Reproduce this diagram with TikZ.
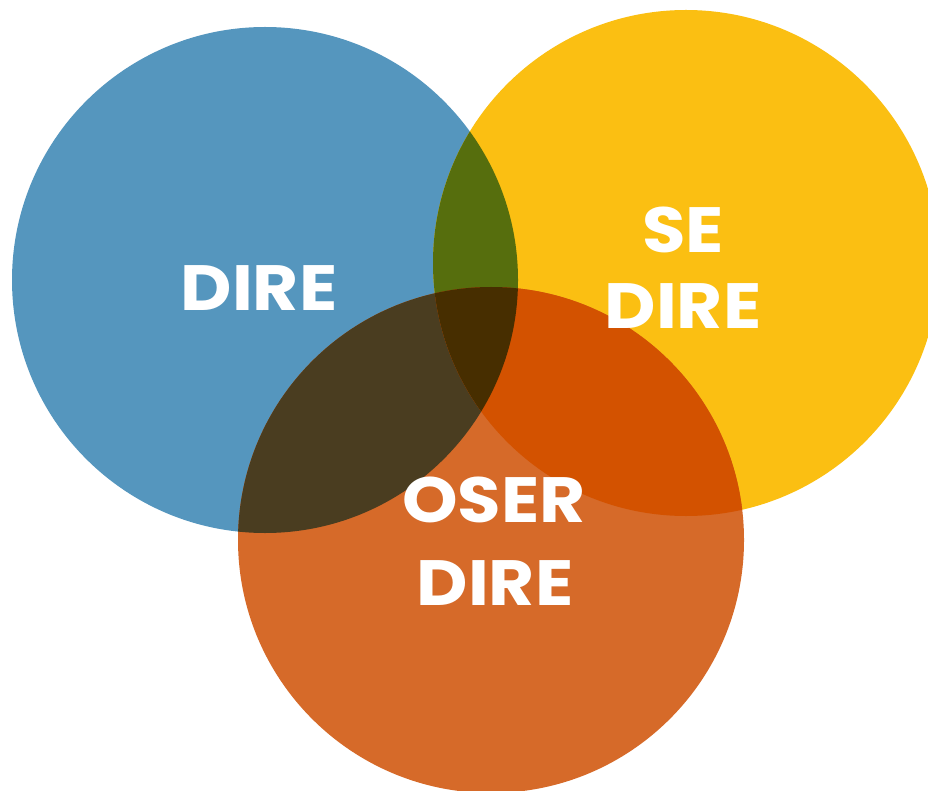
\documentclass[tikz,border=0pt]{standalone}
\usepackage{fontspec}
\setmainfont{Poppins}[FontFace={b}{n}{Poppins Bold}]
\definecolor{cblue}{RGB}{85,150,190}
\definecolor{cyellow}{RGB}{251,191,18}
\definecolor{corange}{RGB}{214,106,41}
\definecolor{cgreen}{RGB}{86,110,13}
\definecolor{cbrown}{RGB}{74,61,32}
\definecolor{cred}{RGB}{211,82,0}
\definecolor{ccenter}{RGB}{71,46,0}
\newcommand{\widetext}[1]{\scalebox{1.105}[1]{#1}}
\tikzset{
  lbl/.style={text=white, inner sep=0pt, anchor=base, font=\bfseries\fontsize{64}{77}\selectfont}
}
\begin{document}
\begin{tikzpicture}[x=1pt,y=-1pt]
\useasboundingbox (0,0) rectangle (928,791);
\clip (0,0) rectangle (928,791);
\coordinate (B) at (265,280);
\coordinate (Y) at (686,263);
\coordinate (O) at (491,540);
\def\R{253}
\fill[cblue] (B) circle[radius=\R];
\fill[cyellow] (Y) circle[radius=\R];
\fill[corange] (O) circle[radius=\R];
\begin{scope}
  \clip (B) circle[radius=\R];
  \fill[cgreen] (Y) circle[radius=\R];
  \fill[cbrown] (O) circle[radius=\R];
\end{scope}
\begin{scope}
  \clip (Y) circle[radius=\R];
  \fill[cred] (O) circle[radius=\R];
\end{scope}
\begin{scope}
  \clip (B) circle[radius=\R];
  \clip (Y) circle[radius=\R];
  \fill[ccenter] (O) circle[radius=\R];
\end{scope}
\node[lbl] (dire) at (259,310) {\widetext{DIRE}};
\node[lbl] (se1) at (683,253) {\widetext{SE}};
\node[lbl] (se2) at (683,328) {\widetext{DIRE}};
\node[lbl] (os1) at (494,522) {\widetext{OSER}};
\node[lbl] (os2) at (495,605) {\widetext{DIRE}};
\end{tikzpicture}
\end{document}
